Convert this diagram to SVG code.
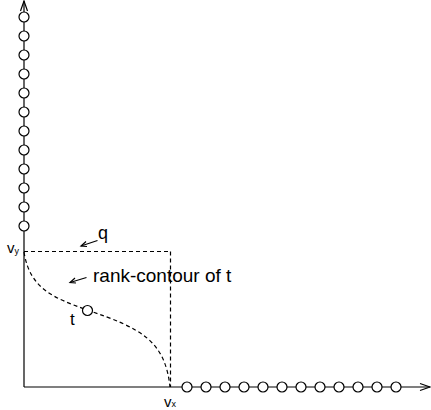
<svg xmlns="http://www.w3.org/2000/svg" width="431" height="410" viewBox="0 0 431 410">
<style>
.ax{stroke:#000;stroke-width:1.2;fill:none}
.ds{stroke:#000;stroke-width:1.2;fill:none;stroke-dasharray:4,3}
.nd{stroke:#000;stroke-width:1.2;fill:#fff}
text{font-family:"Liberation Sans",Arial,sans-serif;fill:#000}
</style>
<g id="connectors">
<line class="ax" x1="24" y1="1" x2="24" y2="387"/>
<polyline class="ax" points="20.5,11 24,1 27.5,11"/>
<line class="ax" x1="24" y1="387" x2="430" y2="387"/>
<polyline class="ax" points="420,383.5 430,387 420,390.5"/>
<line class="ds" x1="24" y1="251.5" x2="170.5" y2="251.5"/>
<line class="ds" x1="170.5" y1="251.5" x2="170.5" y2="387"/>
<path class="ds" d="M24,252 C30,290 55,298 87,310 C140,328 165,340 170,387"/>
<line class="ax" x1="97.5" y1="240.5" x2="81" y2="246"/>
<polyline class="ax" points="86,241.5 81,246 87,246.5"/>
<line class="ax" x1="86.5" y1="277.5" x2="70" y2="282.5"/>
<polyline class="ax" points="75,278 70,282.5 76,283"/>
</g>
<g id="y-nodes">
<circle class="nd" cx="24" cy="17" r="5"/>
<circle class="nd" cx="24" cy="36" r="5"/>
<circle class="nd" cx="24" cy="55" r="5"/>
<circle class="nd" cx="24" cy="74" r="5"/>
<circle class="nd" cx="24" cy="93" r="5"/>
<circle class="nd" cx="24" cy="112" r="5"/>
<circle class="nd" cx="24" cy="131" r="5"/>
<circle class="nd" cx="24" cy="150" r="5"/>
<circle class="nd" cx="24" cy="169" r="5"/>
<circle class="nd" cx="24" cy="188" r="5"/>
<circle class="nd" cx="24" cy="207" r="5"/>
<circle class="nd" cx="24" cy="226" r="5"/>
</g>
<g id="x-nodes">
<circle class="nd" cx="187" cy="387" r="5"/>
<circle class="nd" cx="206" cy="387" r="5"/>
<circle class="nd" cx="225" cy="387" r="5"/>
<circle class="nd" cx="244" cy="387" r="5"/>
<circle class="nd" cx="263" cy="387" r="5"/>
<circle class="nd" cx="282" cy="387" r="5"/>
<circle class="nd" cx="301" cy="387" r="5"/>
<circle class="nd" cx="320" cy="387" r="5"/>
<circle class="nd" cx="339" cy="387" r="5"/>
<circle class="nd" cx="358" cy="387" r="5"/>
<circle class="nd" cx="377" cy="387" r="5"/>
<circle class="nd" cx="396" cy="387" r="5"/>
</g>
<g id="t">
<circle class="nd" cx="87.5" cy="310.5" r="5"/>
<text x="70" y="325" font-size="17">t</text>
</g>
<g id="labels">
<text x="7" y="253" font-size="15">v<tspan font-size="9" dy="1">y</tspan></text>
<text x="164" y="407" font-size="15">v<tspan font-size="9">x</tspan></text>
<text x="98" y="239" font-size="18">q</text>
<text x="93" y="282" font-size="19">rank-contour of t</text>
</g>
</svg>
